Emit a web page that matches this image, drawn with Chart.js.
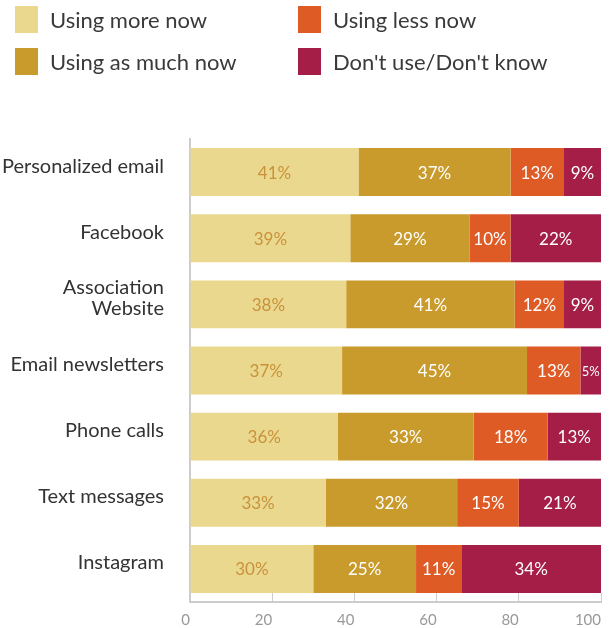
<!DOCTYPE html>
<html>
<head>
<meta charset="utf-8">
<script src="https://cdn.jsdelivr.net/npm/chart.js@4/dist/chart.umd.min.js"></script>
<style>
  html, body { margin: 0; padding: 0; background: #fff; }
  #wrap { position: relative; width: 611px; height: 628px; }
  #legend { position: absolute; left: 0; top: 0; width: 611px; height: 90px; font-family: Lato, "Open Sans", sans-serif; font-size: 22px; color: #3a3a3a; }
  .item { position: absolute; display: flex; align-items: center; }
  .box { width: 23px; height: 27px; margin-right: 12px; }
</style>
</head>
<body>
<div id="wrap">
  <canvas id="c" width="611" height="628"></canvas>
  <div id="legend"></div>
</div>
<script>
const categories = ['Personalized email', 'Facebook', ['Association', 'Website'], 'Email newsletters', 'Phone calls', 'Text messages', 'Instagram'];
const seriesNames = ['Using more now', 'Using as much now', 'Using less now', "Don't use/Don't know"];
const usingMore   = [41, 39, 38, 37, 36, 33, 30];
const usingAsMuch = [37, 29, 41, 45, 33, 32, 25];
const usingLess   = [13, 10, 12, 13, 18, 15, 11];
const dontUse     = [9, 22, 9, 5, 13, 21, 34];
const xTicks = [0, 20, 40, 60, 80, 100];

const colors = ['#ebd88f', '#c99a2c', '#df5b26', '#a51e48'];
const labelColors = ['#c8923a', '#ffffff', '#ffffff', '#ffffff'];
const seriesData = [usingMore, usingAsMuch, usingLess, dontUse];

// HTML legend (2x2 grid, column-major like reference)
const legendPos = [[15, 6], [15, 48], [298, 6], [298, 48]];
const legend = document.getElementById('legend');
seriesNames.forEach((name, i) => {
  const d = document.createElement('div');
  d.className = 'item';
  d.style.left = legendPos[i][0] + 'px';
  d.style.top = legendPos[i][1] + 'px';
  d.innerHTML = '<span class="box" style="background:' + colors[i] + '"></span><span>' + name + '</span>';
  legend.appendChild(d);
});

const barLabels = {
  id: 'barLabels',
  afterDatasetsDraw(chart) {
    const ctx = chart.ctx;
    ctx.save();
    ctx.textAlign = 'center';
    ctx.textBaseline = 'middle';
    chart.data.datasets.forEach((ds, di) => {
      const meta = chart.getDatasetMeta(di);
      meta.data.forEach((el, i) => {
        const v = ds.data[i];
        const p = el.getProps(['x', 'y', 'base'], true);
        const right = Math.min(p.x, chart.chartArea.right);
        const w = right - p.base;
        const size = w < 30 ? 13 : 17;
        ctx.font = size + 'px Lato, "Open Sans", sans-serif';
        ctx.fillStyle = labelColors[di];
        ctx.fillText(v + '%', (p.base + right) / 2, p.y + 1);
      });
    });
    ctx.restore();
  }
};

new Chart(document.getElementById('c'), {
  type: 'bar',
  data: {
    labels: categories,
    datasets: seriesNames.map((n, i) => ({
      label: n,
      data: seriesData[i],
      backgroundColor: colors[i],
      borderWidth: 0,
      barPercentage: 0.725,
      categoryPercentage: 1
    }))
  },
  options: {
    indexAxis: 'y',
    responsive: false,
    animation: false,
    layout: { padding: { top: 139, right: 10, left: 0, bottom: 0 } },
    plugins: { legend: { display: false }, tooltip: { enabled: false } },
    scales: {
      x: {
        stacked: true,
        min: 0, max: 100,
        afterBuildTicks(scale) { scale.ticks = xTicks.map(v => ({ value: v })); },
        afterFit(scale) { scale.height = 26; scale.paddingLeft = 0; scale.paddingRight = 0; },
        grid: { drawOnChartArea: false, drawTicks: true, tickLength: -9, color: '#cccccc', lineWidth: 1 },
        border: { display: true, color: '#cccccc', width: 2 },
        ticks: { align: 'end', padding: 18, color: '#999999', font: { family: 'Lato, "Open Sans", sans-serif', size: 15 } }
      },
      y: {
        stacked: true,
        afterFit(scale) { scale.width = 190; scale.paddingTop = 0; scale.paddingBottom = 0; },
        grid: { display: false, drawTicks: false },
        border: { display: true, color: '#cccccc', width: 2 },
        ticks: { padding: 26, labelOffset: -6, color: '#333333', font: { family: 'Lato, "Open Sans", sans-serif', size: 20, lineHeight: 1.05 } }
      }
    }
  },
  plugins: [barLabels]
});
</script>
</body>
</html>
